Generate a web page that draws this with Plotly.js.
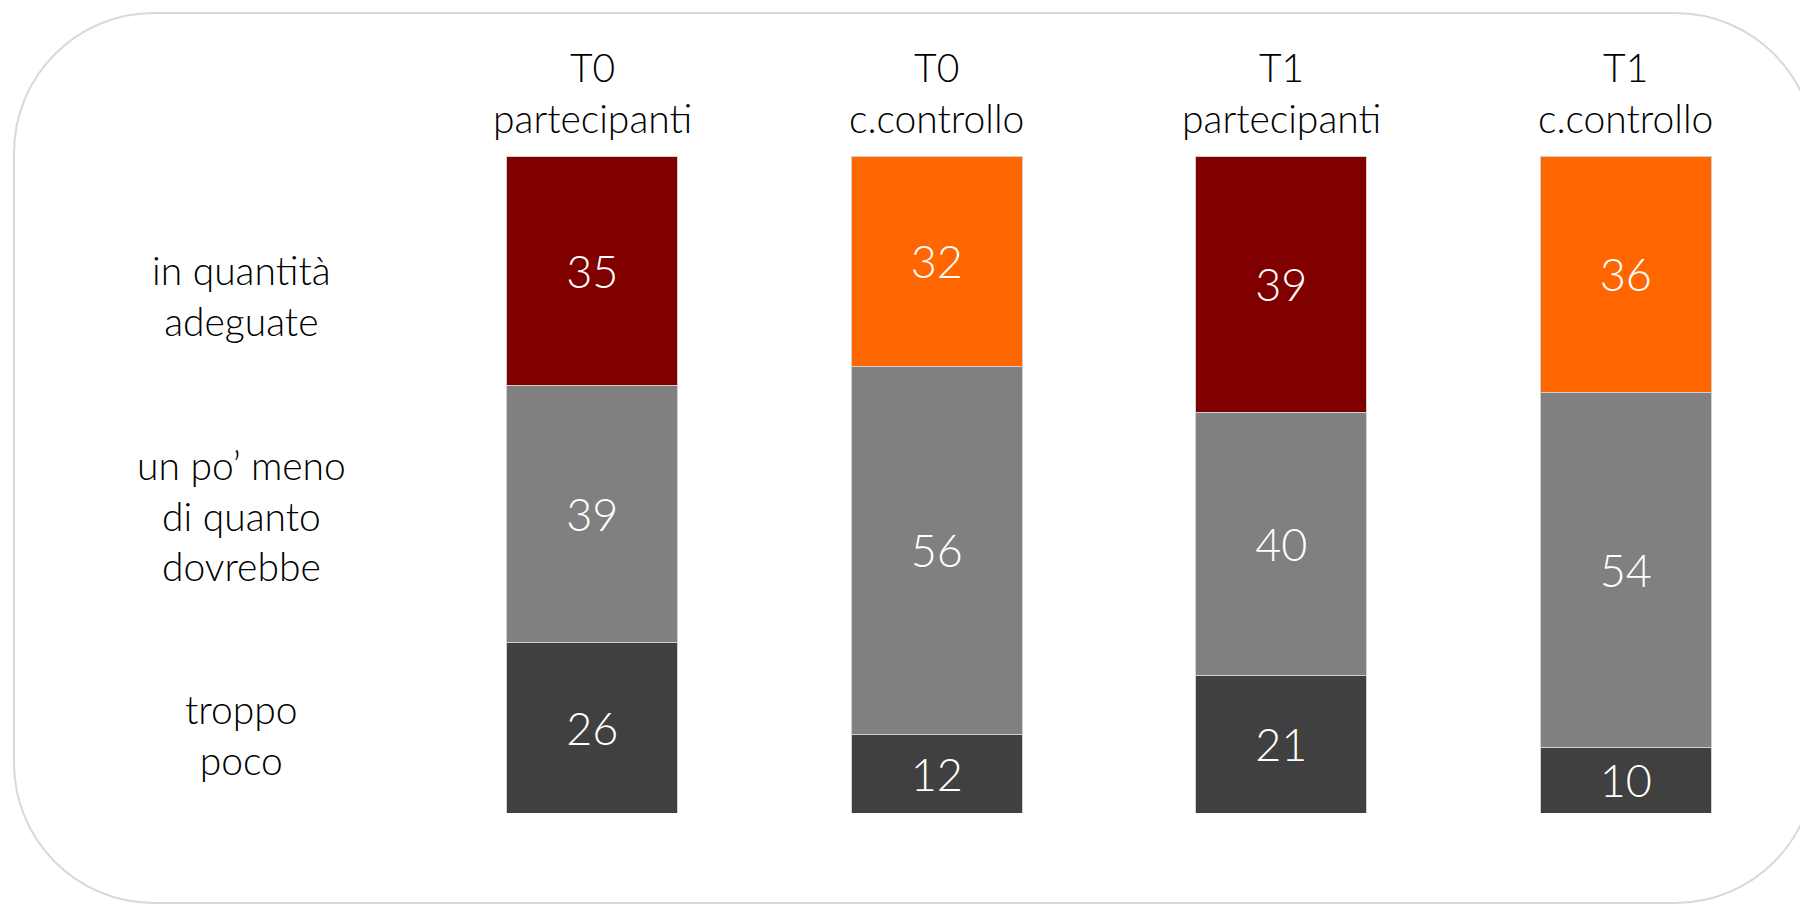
<!DOCTYPE html>
<html>
<head>
<meta charset="utf-8">
<script src="https://cdn.plot.ly/plotly-3.0.1.min.js"></script>
<style>
  html, body { margin: 0; padding: 0; background: #ffffff; overflow: hidden; }
  #chart { width: 1800px; height: 905px; }
</style>
</head>
<body>
<div id="chart"></div>
<script>
// ---- data ----
const categories = ['T0 partecipanti', 'T0 c.controllo', 'T1 partecipanti', 'T1 c.controllo'];
const timeLabels = ['T0', 'T0', 'T1', 'T1'];
const groupLabels = ['partecipanti', 'c.controllo', 'partecipanti', 'c.controllo'];

const seriesNames = ['troppo poco', 'un po\u2019 meno di quanto dovrebbe', 'in quantità adeguate'];
const troppoPoco = [26, 12, 21, 10];
const unPoMeno = [39, 56, 40, 54];
const adeguate = [35, 32, 39, 36];

const labelLinesTroppo = ['troppo', 'poco'];
const labelLinesMeno = ['un po\u2019 meno', 'di quanto', 'dovrebbe'];
const labelLinesAdeguate = ['in quantità', 'adeguate'];

// ---- styles ----
const FONT = 'Lato, "Open Sans", "DejaVu Sans", sans-serif';
const colTroppo = '#404040';
const colMeno = '#808080';
const colAdeguate = ['#800000', '#FF6600', '#800000', '#FF6600'];
const W = 1800, H = 905;
const M = { l: 420, r: 2, t: 156, b: 92 };
const plotW = W - M.l - M.r, plotH = H - M.t - M.b;

function bar(name, vals, color) {
  return {
    type: 'bar', name: name, x: categories, y: vals,
    text: vals.map(String), texttemplate: '%{text}',
    textposition: 'inside', insidetextanchor: 'middle', textangle: 0,
    constraintext: 'none',
    textfont: { family: FONT, size: 45, color: '#ffffff', weight: 300 },
    marker: { color: color, line: { color: '#d0d0d0', width: 1 } },
    hoverinfo: 'skip'
  };
}

const traces = [
  bar(seriesNames[0], troppoPoco, colTroppo),
  bar(seriesNames[1], unPoMeno, colMeno),
  bar(seriesNames[2], adeguate, colAdeguate)
];

// ---- annotations ----
const annotations = [];
const labelFont = { family: FONT, size: 39, color: '#000000', weight: 300 };
categories.forEach((c, i) => {
  annotations.push({ x: c, xref: 'x', y: (M.t + plotH - 92) / plotH, yref: 'paper',
    text: timeLabels[i] + '<br>' + groupLabels[i], align: 'center',
    showarrow: false, xanchor: 'center', yanchor: 'middle', font: labelFont });
});

function sideLabel(lines, yCenter) {
  annotations.push({ x: (242 - M.l) / plotW, xref: 'paper', y: yCenter, yref: 'y',
    text: lines.join('<br>'), align: 'center',
    showarrow: false, xanchor: 'center', yanchor: 'middle', font: labelFont });
}
sideLabel(labelLinesAdeguate, 78.8);
sideLabel(labelLinesMeno, 45.3);
sideLabel(labelLinesTroppo, 11.9);

// ---- rounded frame ----
function X(px) { return ((px - M.l) / plotW).toFixed(5); }
function Y(py) { return ((M.t + plotH - py) / plotH).toFixed(5); }
const L = 14, T = 13, R = 1815, B = 903, r = 140, k = 0.5523 * r;
const p = (x, y) => X(x) + ',' + Y(y);
const framePath =
  'M' + p(L + r, T) +
  ' L' + p(R - r, T) +
  ' C' + p(R - r + k, T) + ' ' + p(R, T + r - k) + ' ' + p(R, T + r) +
  ' L' + p(R, B - r) +
  ' C' + p(R, B - r + k) + ' ' + p(R - r + k, B) + ' ' + p(R - r, B) +
  ' L' + p(L + r, B) +
  ' C' + p(L + r - k, B) + ' ' + p(L, B - r + k) + ' ' + p(L, B - r) +
  ' L' + p(L, T + r) +
  ' C' + p(L, T + r - k) + ' ' + p(L + r - k, T) + ' ' + p(L + r, T) + ' Z';

const layout = {
  width: W, height: H,
  margin: M,
  barmode: 'stack',
  bargap: 0.505,
  showlegend: false,
  hovermode: false,
  paper_bgcolor: '#ffffff',
  plot_bgcolor: 'rgba(0,0,0,0)',
  font: { family: FONT, color: '#000000' },
  xaxis: { type: 'category', showticklabels: false, showgrid: false, zeroline: false, showline: false, ticks: '', fixedrange: true },
  yaxis: { range: [0, 100], visible: false, showgrid: false, zeroline: false, fixedrange: true },
  annotations: annotations,
  shapes: [{ type: 'path', xref: 'paper', yref: 'paper', path: framePath, layer: 'below',
    line: { color: '#d9d9d9', width: 2 }, fillcolor: 'rgba(0,0,0,0)' }]
};

Plotly.newPlot('chart', traces, layout, { displayModeBar: false, staticPlot: true });
</script>
</body>
</html>
